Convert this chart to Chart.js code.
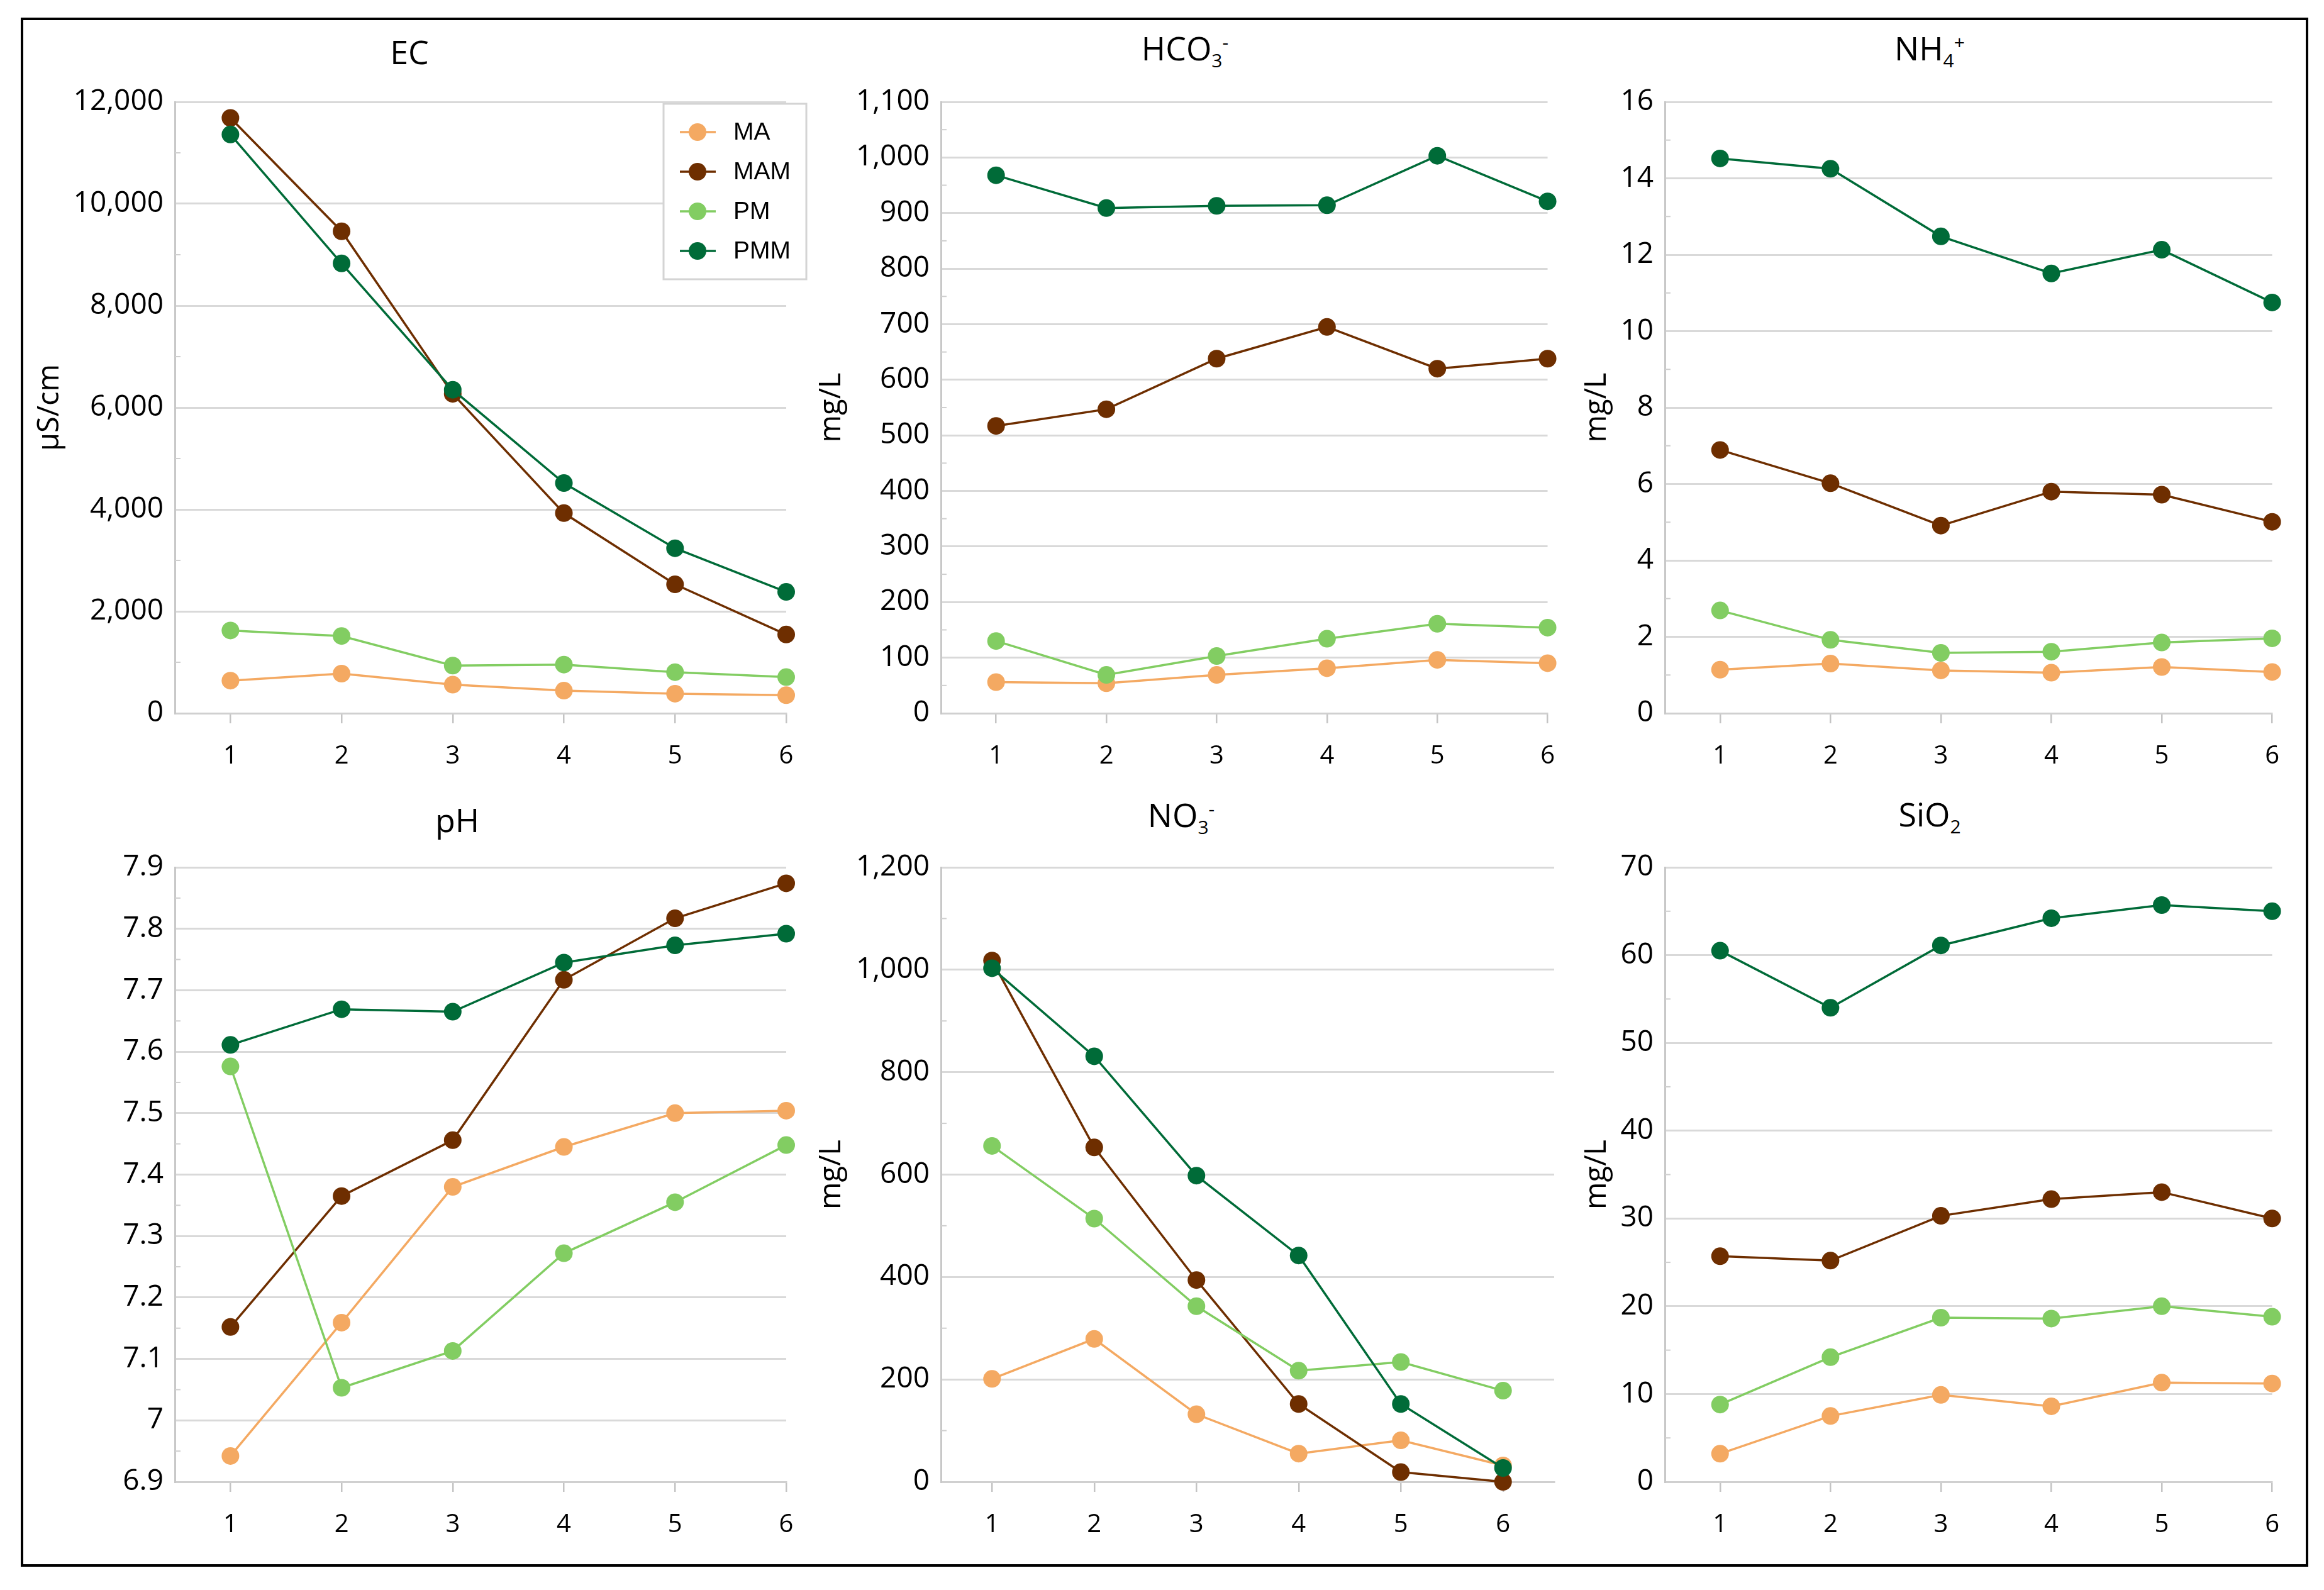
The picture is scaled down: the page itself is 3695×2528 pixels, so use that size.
<!DOCTYPE html>
<html><head><meta charset="utf-8">
<script src="https://cdn.jsdelivr.net/npm/chart.js@4.4.1/dist/chart.umd.min.js"></script>
<style>
html,body{margin:0;padding:0;background:#fff;}
#page{position:relative;width:3695px;height:2528px;background:#fff;overflow:hidden;font-family:"Open Sans",sans-serif;}
#frame{position:absolute;left:33px;top:28px;width:3629px;height:2455px;border:4px solid #000;}
.cv{position:absolute;}
.ttl{position:absolute;font-size:52px;line-height:52px;color:#000;white-space:nowrap;transform:translateX(-50%);}
.ttl sub,.ttl sup{font-size:30px;line-height:0;}
</style></head>
<body><div id="page"><div id="frame"></div>
<div class="ttl" style="left:651px;top:56px">EC</div>
<div class="ttl" style="left:1884px;top:50px">HCO<sub>3</sub><sup>-</sup></div>
<div class="ttl" style="left:3068px;top:50px">NH<sub>4</sub><sup>+</sup></div>
<div class="ttl" style="left:727px;top:1277px">pH</div>
<div class="ttl" style="left:1878px;top:1269px">NO<sub>3</sub><sup>-</sup></div>
<div class="ttl" style="left:3068px;top:1268px">SiO<sub>2</sub></div>
</div>
<script>
// ---------- data ----------
const categories = [1, 2, 3, 4, 5, 6];
const seriesNames = ['MA', 'MAM', 'PM', 'PMM'];

const EC_MA   = [640, 778, 561, 443, 384, 354];
const EC_MAM  = [11685, 9460, 6270, 3928, 2530, 1545];
const EC_PM   = [1624, 1516, 935, 955, 807, 709];
const EC_PMM  = [11360, 8830, 6350, 4518, 3239, 2382];

const HCO3_MA  = [56, 54, 69, 81, 96, 90];
const HCO3_MAM = [517, 547, 638, 695, 620, 638];
const HCO3_PM  = [130, 69, 103, 134, 161, 154];
const HCO3_PMM = [968, 909, 913, 914, 1003, 921];

const NH4_MA  = [1.14, 1.30, 1.12, 1.06, 1.21, 1.08];
const NH4_MAM = [6.89, 6.02, 4.91, 5.80, 5.72, 5.01];
const NH4_PM  = [2.69, 1.92, 1.58, 1.61, 1.85, 1.96];
const NH4_PMM = [14.52, 14.25, 12.48, 11.51, 12.13, 10.75];

const PH_MA  = [6.942, 7.159, 7.380, 7.445, 7.500, 7.504];
const PH_MAM = [7.152, 7.365, 7.456, 7.717, 7.817, 7.874];
const PH_PM  = [7.576, 7.053, 7.113, 7.272, 7.355, 7.448];
const PH_PMM = [7.611, 7.669, 7.665, 7.745, 7.773, 7.792];

const NO3_MA  = [201, 279, 132, 55, 81, 32];
const NO3_MAM = [1018, 653, 394, 152, 19, 0];
const NO3_PM  = [656, 514, 343, 217, 234, 178];
const NO3_PMM = [1003, 831, 598, 442, 152, 27];

const SIO2_MA  = [3.2, 7.5, 9.9, 8.6, 11.3, 11.2];
const SIO2_MAM = [25.7, 25.2, 30.3, 32.2, 33.0, 30.0];
const SIO2_PM  = [8.8, 14.2, 18.7, 18.6, 20.0, 18.8];
const SIO2_PMM = [60.5, 54.0, 61.1, 64.2, 65.7, 65.0];

const EC_TICKS   = [0, 2000, 4000, 6000, 8000, 10000, 12000];
const HCO3_TICKS = [0, 100, 200, 300, 400, 500, 600, 700, 800, 900, 1000, 1100];
const NH4_TICKS  = [0, 2, 4, 6, 8, 10, 12, 14, 16];
const PH_TICKS   = [6.9, 7.0, 7.1, 7.2, 7.3, 7.4, 7.5, 7.6, 7.7, 7.8, 7.9];
const NO3_TICKS  = [0, 200, 400, 600, 800, 1000, 1200];
const SIO2_TICKS = [0, 10, 20, 30, 40, 50, 60, 70];

const Y_TITLES = ['µS/cm', 'mg/L', 'mg/L', '', 'mg/L', 'mg/L'];

// ---------- styling / layout ----------
const COLORS = {MA: '#F4A962', MAM: '#6E2E00', PM: '#82CD62', PMM: '#006B38'};
const ORDER = {MA: 4, MAM: 3, PM: 2, PMM: 1};
const COL = [
  {plotLeft: 278, plotRight: 1250, yW: 231, padR: 45},
  {plotLeft: 1496, plotRight: 2471, yW: 206, padR: 30},
  {plotLeft: 2647, plotRight: 3623, yW: 140, padR: 30}
];
const ROW = [{plotTop: 162, plotBottom: 1134}, {plotTop: 1379, plotBottom: 2356}];
const PADT = 52, XH = 100;
const page = document.getElementById('page');

const fmtThousands = v => Number(v).toLocaleString('en-US');
const fmtPlain = v => String(Math.round(v * 10) / 10);

const minorTicks = {
  id: 'minorTicks',
  beforeDatasetsDraw(chart) {
    const y = chart.scales.y, ca = chart.chartArea, ctx = chart.ctx;
    const t = y.ticks.map(k => k.value);
    ctx.save();
    ctx.strokeStyle = '#cfcfcf'; ctx.lineWidth = 2;
    for (let i = 0; i < t.length - 1; i++) {
      const py = y.getPixelForValue((t[i] + t[i + 1]) / 2);
      ctx.beginPath(); ctx.moveTo(ca.left, py); ctx.lineTo(ca.left + 9, py); ctx.stroke();
    }
    ctx.restore();
  }
};

function makeLegendPlugin(offX, offY) {
  return {
    id: 'boxLegend',
    afterDraw(chart) {
      const ctx = chart.ctx;
      ctx.save();
      const bx = 1055 - offX, by = 165 - offY, bw = 227, bh = 279;
      ctx.fillStyle = '#fff';
      ctx.fillRect(bx, by, bw, bh);
      ctx.strokeStyle = '#d4d4d4'; ctx.lineWidth = 3;
      ctx.strokeRect(bx, by, bw, bh);
      chart.data.datasets.forEach((ds, i) => {
        const cy = 210 + i * 63 - offY;
        ctx.strokeStyle = ds.borderColor; ctx.lineWidth = 3.5;
        ctx.beginPath(); ctx.moveTo(1081 - offX, cy); ctx.lineTo(1138 - offX, cy); ctx.stroke();
        ctx.fillStyle = ds.pointBackgroundColor;
        ctx.beginPath(); ctx.arc(1109 - offX, cy, 14, 0, Math.PI * 2); ctx.fill();
        ctx.fillStyle = '#000';
        ctx.font = '39px "Liberation Sans", Arial, sans-serif';
        ctx.textBaseline = 'middle'; ctx.textAlign = 'left';
        ctx.fillText(ds.label, 1166 - offX, cy + 1);
      });
      ctx.restore();
    }
  };
}

function buildChart(col, row, xMax, series, yTicks, yTitle, fmt, withLegend) {
  const c = COL[col], r = ROW[row];
  const left = c.plotLeft - c.yW, top = r.plotTop - PADT;
  const w = c.plotRight - left + c.padR;
  const h = (r.plotBottom - r.plotTop) + PADT + XH;
  const cv = document.createElement('canvas');
  cv.className = 'cv';
  cv.width = w; cv.height = h;
  cv.style.left = left + 'px'; cv.style.top = top + 'px';
  cv.style.width = w + 'px'; cv.style.height = h + 'px';
  page.appendChild(cv);
  const plugins = [minorTicks];
  if (withLegend) plugins.push(makeLegendPlugin(left, top));
  return new Chart(cv.getContext('2d'), {
    type: 'line',
    data: {
      labels: categories,
      datasets: seriesNames.map((name, i) => ({
        label: name,
        data: series[i],
        borderColor: COLORS[name],
        backgroundColor: COLORS[name],
        pointBackgroundColor: COLORS[name],
        pointBorderColor: COLORS[name],
        pointBorderWidth: 0,
        pointRadius: 14,
        borderWidth: 3.5,
        tension: 0,
        clip: false,
        order: ORDER[name]
      }))
    },
    options: {
      responsive: false,
      devicePixelRatio: 1,
      animation: false,
      layout: {padding: {left: 0, top: PADT, right: c.padR, bottom: 0}},
      plugins: {legend: {display: false}, tooltip: {enabled: false}, title: {display: false}},
      scales: {
        x: {
          type: 'linear', min: 0.5, max: xMax,
          afterBuildTicks: s => { s.ticks = categories.map(v => ({value: v})); },
          afterFit: s => { s.height = XH; },
          ticks: {
            callback: v => String(v), color: '#000', padding: 29,
            font: {family: '"Open Sans", sans-serif', size: 40}, maxRotation: 0, autoSkip: false
          },
          grid: {drawOnChartArea: false, drawTicks: true, tickLength: 16, color: '#c4c4c4', lineWidth: 2.5},
          border: {display: true, color: '#d0d0d0', width: 3}
        },
        y: {
          type: 'linear', min: yTicks[0], max: yTicks[yTicks.length - 1],
          afterBuildTicks: s => { s.ticks = yTicks.map(v => ({value: v})); },
          afterFit: s => { s.width = c.yW; },
          ticks: {
            callback: fmt, color: '#000', padding: 18,
            font: {family: '"Open Sans", sans-serif', size: 46}
          },
          grid: {drawTicks: false, color: '#d9d9d9', lineWidth: 3},
          border: {display: true, color: '#c8c8c8', width: 3},
          title: {
            display: yTitle !== '', text: yTitle, color: '#000',
            font: {family: '"Open Sans", sans-serif', size: 47}, padding: {top: 4, bottom: 4}
          }
        }
      }
    },
    plugins: plugins
  });
}

buildChart(0, 0, 6, [EC_MA, EC_MAM, EC_PM, EC_PMM], EC_TICKS, Y_TITLES[0], fmtThousands, true);
buildChart(1, 0, 6, [HCO3_MA, HCO3_MAM, HCO3_PM, HCO3_PMM], HCO3_TICKS, Y_TITLES[1], fmtThousands, false);
buildChart(2, 0, 6, [NH4_MA, NH4_MAM, NH4_PM, NH4_PMM], NH4_TICKS, Y_TITLES[2], fmtPlain, false);
buildChart(0, 1, 6, [PH_MA, PH_MAM, PH_PM, PH_PMM], PH_TICKS, Y_TITLES[3], fmtPlain, false);
buildChart(1, 1, 6.5, [NO3_MA, NO3_MAM, NO3_PM, NO3_PMM], NO3_TICKS, Y_TITLES[4], fmtThousands, false);
buildChart(2, 1, 6, [SIO2_MA, SIO2_MAM, SIO2_PM, SIO2_PMM], SIO2_TICKS, Y_TITLES[5], fmtPlain, false);
</script>
</body></html>
